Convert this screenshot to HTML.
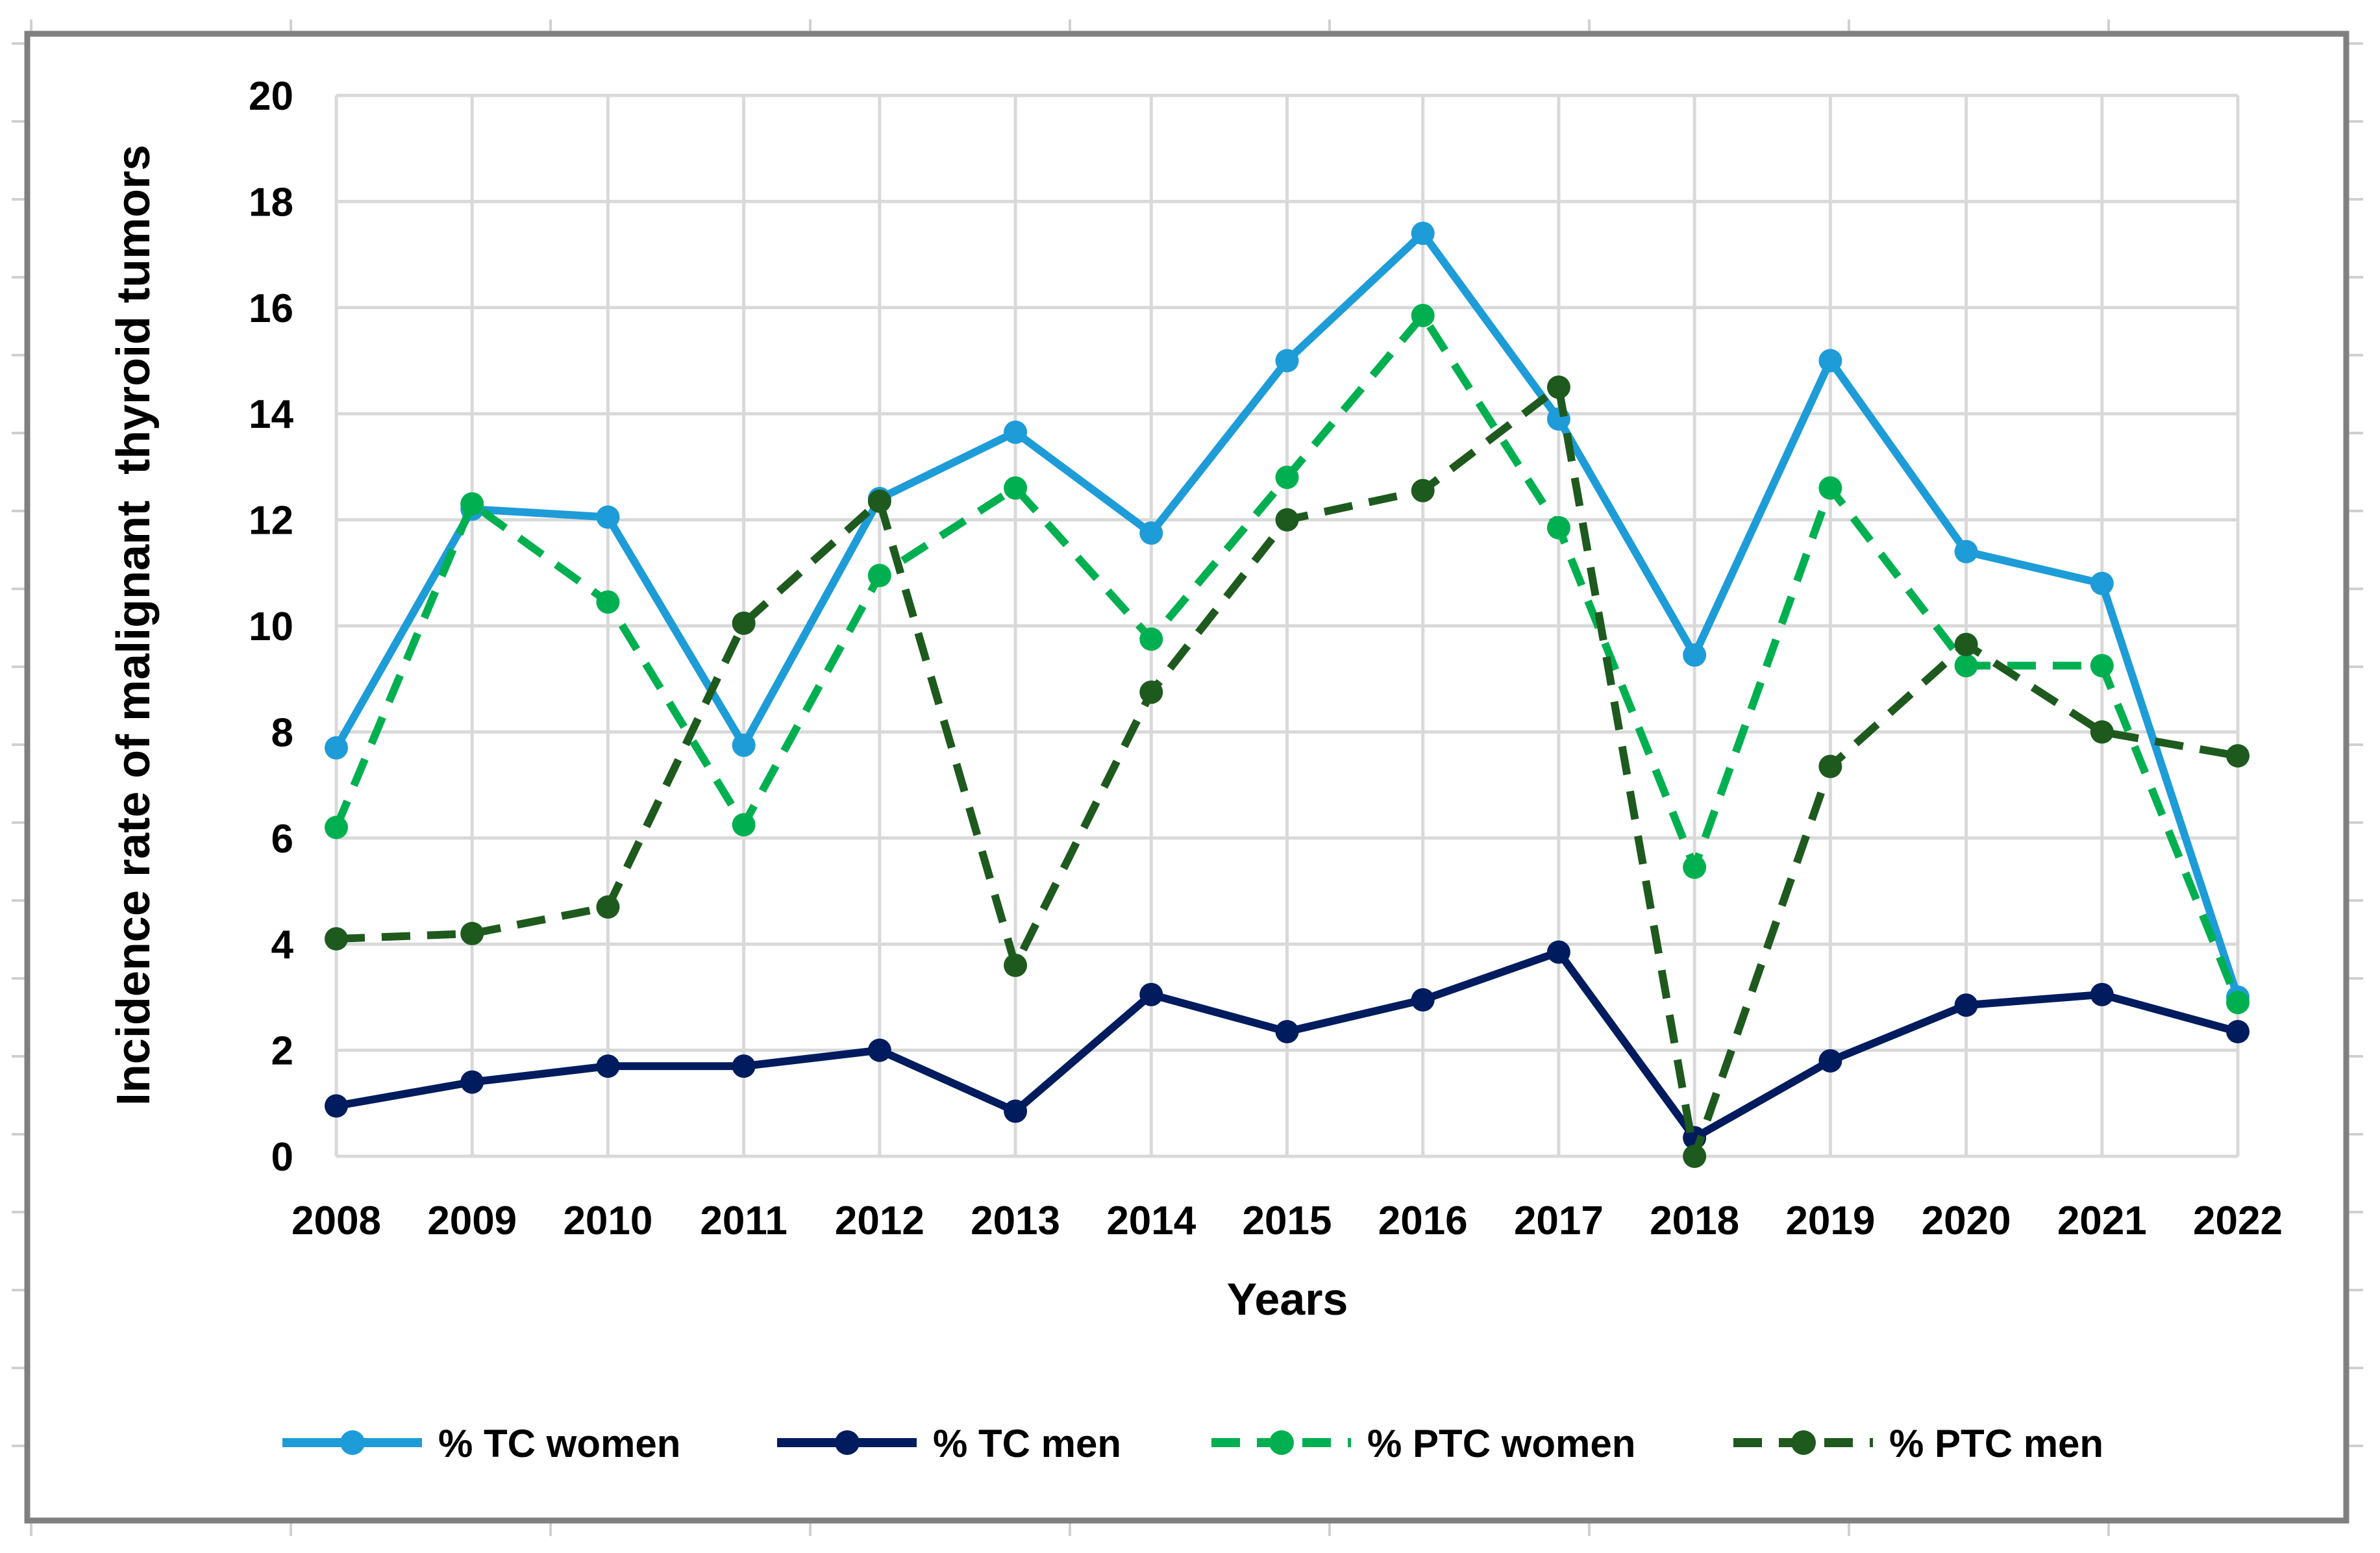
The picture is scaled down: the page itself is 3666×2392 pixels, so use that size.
<!DOCTYPE html>
<html><head><meta charset="utf-8"><style>
html,body{margin:0;padding:0;background:#fff}
svg{display:block}
text{font-family:"Liberation Sans",sans-serif;font-weight:bold;fill:#000}
</style></head><body>
<svg id="chart" width="3666" height="2392" viewBox="0 0 3666 2392" xmlns="http://www.w3.org/2000/svg">
<g id="outer"></g>
<rect x="42" y="52" width="3572" height="2290" fill="#fff" stroke="#808080" stroke-width="9"/>
<g id="grid"></g>
<g id="yticks"></g>
<g id="xticks"></g>
<g id="series"></g>
<text x="1983" y="2025" font-size="70" text-anchor="middle">Years</text>
<text x="0" y="0" font-size="72" text-anchor="middle" transform="translate(230,963) rotate(-90)">Incidence rate of malignant&#160; thyroid tumors</text>
<g id="legend"></g>
</svg>
<script>
const years = ['2008','2009','2010','2011','2012','2013','2014','2015','2016','2017','2018','2019','2020','2021','2022'];
const yTickLabels = ['0','2','4','6','8','10','12','14','16','18','20'];
const tcWomen = [7.7,12.2,12.05,7.75,12.4,13.65,11.75,15.0,17.4,13.9,9.45,15.0,11.4,10.8,3.0];
const tcMen = [0.95,1.4,1.7,1.7,2.0,0.85,3.05,2.35,2.95,3.85,0.35,1.8,2.85,3.05,2.35];
const ptcWomen = [6.2,12.3,10.45,6.25,10.95,12.6,9.75,12.8,15.85,11.85,5.45,12.6,9.25,9.25,2.9];
const ptcMen = [4.1,4.2,4.7,10.05,12.35,3.6,8.75,12.0,12.55,14.5,0.0,7.35,9.65,8.0,7.55];
const seriesNames = ['% TC women','% TC men','% PTC women','% PTC men'];

const NS='http://www.w3.org/2000/svg';
const X0=518,X1=3447,Y0=1781,Y1=147,YMAX=20;
function xs(i){return X0+(X1-X0)*i/(years.length-1);}
function ys(v){return Y0-(Y0-Y1)*v/YMAX;}
function mk(tag,attrs,parent){const e=document.createElementNS(NS,tag);for(const k in attrs)e.setAttribute(k,attrs[k]);parent.appendChild(e);return e;}

const outer=document.getElementById('outer');
for(let x=48;x<3614;x+=400){mk('line',{x1:x,y1:30,x2:x,y2:52,stroke:'#d0d0d0','stroke-width':4},outer);mk('line',{x1:x,y1:2342,x2:x,y2:2366,stroke:'#d0d0d0','stroke-width':4},outer);}
for(let y=67;y<2342;y+=120){mk('line',{x1:18,y1:y,x2:42,y2:y,stroke:'#d0d0d0','stroke-width':4},outer);mk('line',{x1:3614,y1:y,x2:3640,y2:y,stroke:'#d0d0d0','stroke-width':4},outer);}

const grid=document.getElementById('grid');
yTickLabels.forEach(t=>{const y=ys(+t);const l=mk('line',{x1:X0,y1:y,x2:X1,y2:y,stroke:'#d9d9d9','stroke-width':5},grid);});
years.forEach((yr,i)=>{const x=xs(i);const l=mk('line',{x1:x,y1:Y1,x2:x,y2:Y0,stroke:'#d9d9d9','stroke-width':5},grid);});

const yt=document.getElementById('yticks');
yTickLabels.forEach(t=>{const e=mk('text',{x:452,y:ys(+t)+22,'font-size':62,'text-anchor':'end'},yt);e.textContent=t;});
const xt=document.getElementById('xticks');
years.forEach((yr,i)=>{const e=mk('text',{x:xs(i),y:1901,'font-size':62,'text-anchor':'middle'},xt);e.textContent=yr;});

const styles=[
 {data:tcWomen,color:'#1E9CD8',dash:null,name:'series-tc-women'},
 {data:tcMen,color:'#001C5E',dash:null,name:'series-tc-men'},
 {data:ptcWomen,color:'#00B050',dash:'44 26',name:'series-ptc-women'},
 {data:ptcMen,color:'#1E5A1E',dash:'44 26',name:'series-ptc-men'}];
const sg=document.getElementById('series');
styles.forEach(s=>{
 const g=mk('g',{},sg);
 
 
 const pts=s.data.map((v,i)=>xs(i)+','+ys(v)).join(' ');
 const a={points:pts,fill:'none',stroke:s.color,'stroke-width':12,'stroke-linejoin':'round'};
 if(s.dash)a['stroke-dasharray']=s.dash;
 const pl=mk('polyline',a,g);
 
 
 s.data.forEach((v,i)=>{const c=mk('circle',{cx:xs(i),cy:ys(v),r:18,fill:s.color},g);});
});

const lg=document.getElementById('legend');
const lx=[435,1197,1866,2670];
styles.forEach((s,i)=>{
 const g=mk('g',{},lg);
 
 
 const a={x1:lx[i],y1:2222,x2:lx[i]+215,y2:2222,stroke:s.color,'stroke-width':14};
 if(s.dash)a['stroke-dasharray']='44 26';
 mk('line',a,g);
 mk('circle',{cx:lx[i]+108,cy:2222,r:19,fill:s.color},g);
 const t=mk('text',{x:lx[i]+240,y:2244,'font-size':60},g);
 t.textContent=seriesNames[i];
});
</script>
</body></html>
